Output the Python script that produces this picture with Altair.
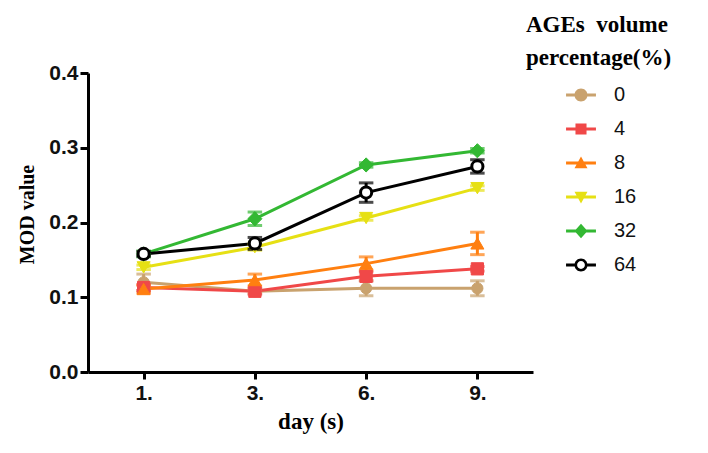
import altair as alt
import pandas as pd

days = ["1.", "3.", "6.", "9."]
series = ["0", "4", "8", "16", "32", "64"]
means = {
    "0":  [0.120, 0.108, 0.112, 0.112],
    "4":  [0.113, 0.108, 0.128, 0.138],
    "8":  [0.111, 0.123, 0.145, 0.172],
    "16": [0.140, 0.167, 0.206, 0.246],
    "32": [0.158, 0.205, 0.277, 0.296],
    "64": [0.158, 0.172, 0.240, 0.275],
}
errs = {
    "0":  [0.011, 0.003, 0.010, 0.010],
    "4":  [0.004, 0.004, 0.006, 0.003],
    "8":  [0.005, 0.008, 0.009, 0.015],
    "16": [0.003, 0.004, 0.003, 0.003],
    "32": [0.004, 0.009, 0.003, 0.003],
    "64": [0.003, 0.008, 0.013, 0.009],
}
colors = ["#C9A26E", "#F04848", "#FF7F10", "#E6E014", "#33B833", "#000000"]
fills = ["#C9A26E", "#F04848", "#FF7F10", "#E6E014", "#33B833", "#FFFFFF"]
marker_shapes = ["circle", "square", "triangle-up", "triangle-down", "diamond", "circle"]
marker_sizes = [125, 150, 170, 170, 200, 125]

bar = "M-2.3,-0.23H2.3V0.23H-2.3Z"
legend_paths = [
    bar + "M-1,0A1,1 0 1,1 1,0A1,1 0 1,1 -1,0Z",
    bar + "M-0.85,-0.85H0.85V0.85H-0.85Z",
    bar + "M0,-1L1,0.8H-1Z",
    bar + "M0,1L-1,-0.8H1Z",
    bar + "M0,-1.1L1,0L0,1.1L-1,0Z",
    "M-2.3,-0.23H-0.9V0.23H-2.3Z M0.9,-0.23H2.3V0.23H0.9Z "
    "M-1,0A1,1 0 1,1 1,0A1,1 0 1,1 -1,0Z M-0.6,0A0.6,0.6 0 1,0 0.6,0A0.6,0.6 0 1,0 -0.6,0Z",
]

rows = []
for s in series:
    for d, m, e in zip(days, means[s], errs[s]):
        rows.append({"day": d, "series": s, "mean": m, "lo": m - e, "hi": m + e})
df = pd.DataFrame(rows)

x_enc = alt.X("day:N", sort=days, scale=alt.Scale(type="point", padding=0.5),
              axis=alt.Axis(title="day (s)", labelAngle=0, labelFont="Liberation Sans",
                            labelFontSize=21, labelFontWeight="bold", labelColor="#111",
                            labelPadding=3, tickSize=7, tickWidth=3, tickColor="black",
                            domainColor="black", domainWidth=3, grid=False,
                            titleFont="Liberation Serif", titleFontSize=23, titleFontWeight="bold",
                            titleColor="black", titleBaseline="middle", titleY=49))
x_plain = alt.X("day:N", sort=days)
y_scale = alt.Scale(domain=[0, 0.4], nice=False, zero=True)
y_axis = alt.Axis(title="MOD value", values=[0, 0.1, 0.2, 0.3, 0.4], format=".1f",
                  labelFont="Liberation Sans", labelFontSize=21, labelFontWeight="bold",
                  labelColor="#111", labelPadding=2, tickSize=8, tickWidth=3, tickColor="black",
                  domainColor="black", domainWidth=3, grid=False,
                  titleFont="Liberation Serif", titleFontSize=20, titleFontWeight="bold",
                  titleColor="black", titleBaseline="middle", titleX=-61, titleY=141)

# stroke/fill scales list the series in reverse order (with matching reversed ranges)
# so that their disabled legends are not merged with the visible colour/shape legend
stroke_enc = alt.Stroke("series:N", scale=alt.Scale(domain=series[::-1], range=colors[::-1]),
                        legend=None)
fill_enc = alt.Fill("series:N", scale=alt.Scale(domain=series[::-1], range=fills[::-1]),
                    legend=None)

base = alt.Chart(df)

lines = base.mark_line(strokeWidth=3).encode(
    x=x_enc, y=alt.Y("mean:Q", scale=y_scale, axis=y_axis), stroke=stroke_enc)

rules = base.mark_rule(strokeWidth=3).encode(
    x=x_plain, y="lo:Q", y2="hi:Q", stroke=stroke_enc)

cap_lo = base.mark_tick(thickness=0.5, size=12, strokeWidth=2.5, fill=None).encode(
    x=x_plain, y="lo:Q", stroke=stroke_enc)
cap_hi = base.mark_tick(thickness=0.5, size=12, strokeWidth=2.5, fill=None).encode(
    x=x_plain, y="hi:Q", stroke=stroke_enc)

point_layers = []
for s, shp, sz in zip(series, marker_shapes, marker_sizes):
    point_layers.append(
        base.transform_filter(f"datum.series == '{s}'").mark_point(
            shape=shp, size=sz, opacity=1, fillOpacity=1,
            strokeWidth=3 if s == "64" else 1).encode(
            x=x_plain, y="mean:Q", stroke=stroke_enc, fill=fill_enc))

leg = alt.Legend(title=None, orient="right", offset=26, padding=12,
                 labelFont="Liberation Sans", labelFontSize=20, labelColor="#111",
                 symbolSize=169, symbolStrokeWidth=0, symbolOpacity=1,
                 rowPadding=14, labelOffset=23)
legend_layer = base.transform_filter("false").mark_point(filled=True, opacity=1, strokeWidth=0).encode(
    x=x_plain, y="mean:Q",
    color=alt.Color("series:N", scale=alt.Scale(domain=series, range=colors), legend=leg),
    shape=alt.Shape("series:N", scale=alt.Scale(domain=series, range=legend_paths), legend=leg))

chart = alt.layer(lines, rules, cap_lo, cap_hi, *point_layers, legend_layer).properties(
    width=445, height=299,
    autosize=alt.AutoSizeParams(type="none"),
    padding={"left": 80, "top": 65, "right": 167, "bottom": 73},
    title=alt.TitleParams(text=["AGEs\u00a0\u00a0volume", "percentage(%)"], anchor="start",
                          frame="group", dx=438, font="Liberation Serif", fontSize=23,
                          fontWeight="bold", color="black", lineHeight=33, baseline="top",
                          offset=0, dy=8),
).configure_view(stroke=None)

chart.save("out.html", embed_options={"renderer": "svg", "actions": False})
